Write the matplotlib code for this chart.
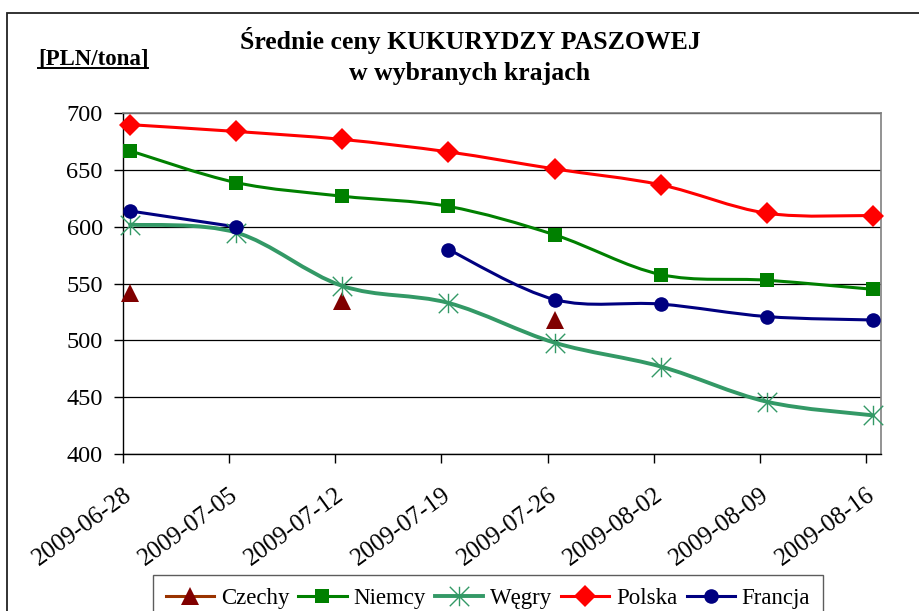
import numpy as np
import matplotlib
matplotlib.use('Agg')
import matplotlib.pyplot as plt
from matplotlib.path import Path
from matplotlib.patches import PathPatch, Rectangle
from matplotlib.lines import Line2D

# ---------------- data ----------------
dates = ['2009-06-28', '2009-07-05', '2009-07-12', '2009-07-19',
         '2009-07-26', '2009-08-02', '2009-08-09', '2009-08-16']
nan = np.nan
czechy = [542, nan, 535, nan, 518, nan, nan, nan]
niemcy = [667, 639, 627, 618, 593, 558, 553, 545]
wegry = [602, 595, 548, 533, 498, 477, 446, 434]
polska = [690, 684, 677, 666, 651, 637, 612, 610]
francja = [614, 600, nan, 580, 536, 532, 521, 518]
series_names = ['Czechy', 'Niemcy', 'Węgry', 'Polska', 'Francja']
title_text = 'Średnie ceny KUKURYDZY PASZOWEJ\nw wybranych krajach'
unit_text = '[PLN/tona]'

# ---------------- style ----------------
FONT = ['Liberation Serif', 'DejaVu Serif']
plt.rcParams['font.family'] = FONT

star = Path([(0, -1), (0, 1), (-1, -1), (1, 1), (-1, 1), (1, -1)],
            [Path.MOVETO, Path.LINETO, Path.MOVETO, Path.LINETO,
             Path.MOVETO, Path.LINETO])

styles = {
    'Czechy': dict(data=czechy, color='#800000', lcolor='#993300', marker='^', ms=13, lw=2.2, mew=0),
    'Niemcy': dict(data=niemcy, color='#008000', lcolor='#008000', marker='s', ms=10.5, lw=2.2, mew=0),
    'Węgry': dict(data=wegry, color='#339966', lcolor='#339966', marker=star, ms=14, lw=2.8, mew=1.0),
    'Polska': dict(data=polska, color='#FF0000', lcolor='#FF0000', marker='D', ms=11, lw=2.2, mew=0),
    'Francja': dict(data=francja, color='#000080', lcolor='#000080', marker='o', ms=10.5, lw=2.2, mew=0),
}

W, H = 919, 611
fig = plt.figure(figsize=(W / 100, H / 100), dpi=100)

# outer chart border (cut off at right/bottom like the reference)
fig.add_artist(Rectangle((7 / W, -0.05), 1.2, (H - 13) / H + 0.05,
                         transform=fig.transFigure, fill=False,
                         edgecolor='#222222', lw=1.3))

ax = fig.add_axes([123 / W, (H - 454) / H, (881 - 123) / W, (454 - 113.3) / H])

offset = 0.066
x = np.arange(len(dates)) + offset


def smooth_path(xs, ys):
    """Excel-like smoothed line (Catmull-Rom Bezier) per continuous run."""
    verts, codes = [], []
    ys = np.asarray(ys, dtype=float)
    good = ~np.isnan(ys)
    runs, cur = [], []
    for i in range(len(ys)):
        if good[i]:
            cur.append(i)
        else:
            if cur:
                runs.append(cur)
            cur = []
    if cur:
        runs.append(cur)
    for run in runs:
        if len(run) < 2:
            continue
        P = np.array([[xs[i], ys[i]] for i in run])
        n = len(P)
        verts.append(tuple(P[0]))
        codes.append(Path.MOVETO)
        for i in range(n - 1):
            p0 = P[i - 1] if i > 0 else P[i]
            p1 = P[i]
            p2 = P[i + 1]
            p3 = P[i + 2] if i + 2 < n else P[i + 1]
            c1 = p1 + (p2 - p0) / 6.0
            c2 = p2 - (p3 - p1) / 6.0
            verts += [tuple(c1), tuple(c2), tuple(p2)]
            codes += [Path.CURVE4] * 3
    if not verts:
        return None
    return Path(verts, codes)


handles = []
for name in series_names:
    s = styles[name]
    p = smooth_path(x, s['data'])
    if p is not None:
        ax.add_patch(PathPatch(p, facecolor='none', edgecolor=s['color'],
                               lw=s['lw'], capstyle='round', joinstyle='round',
                               zorder=3))
    ax.plot(x, s['data'], linestyle='none', marker=s['marker'],
            markersize=s['ms'], color=s['color'], markeredgecolor=s['color'],
            markeredgewidth=s['mew'], zorder=4, clip_on=False)
    handles.append(Line2D([0], [0], color=s['lcolor'], lw=s['lw'],
                          marker=s['marker'], markersize=s['ms'],
                          markerfacecolor=s['color'], markeredgecolor=s['color'],
                          markeredgewidth=s['mew'], label=name))

ax.set_xlim(0, 7.14)
ax.set_ylim(400, 700)
ax.set_yticks(np.arange(400, 701, 50))
ax.set_xticks(np.arange(len(dates)))
ax.set_xticklabels(dates, rotation=36, ha='right', va='top',
                   rotation_mode='anchor')
ax.tick_params(axis='both', length=6.5, width=1.0,
               direction='out', color='black')
ax.tick_params(axis='y', pad=8, labelsize=17.5)
ax.tick_params(axis='x', pad=15, labelsize=18)
ax.yaxis.grid(True, color='black', lw=0.9)
ax.set_axisbelow(True)
for side in ['top', 'right']:
    ax.spines[side].set_color('#808080')
    ax.spines[side].set_linewidth(1.2)
for side in ['left', 'bottom']:
    ax.spines[side].set_color('black')
    ax.spines[side].set_linewidth(1.0)

# title and unit
fig.text(470 / W, 1 - 56 / H, title_text, ha='center', va='center',
         fontsize=18.5, fontweight='bold', linespacing=1.45)
t = fig.text(38 / W, 1 - 64 / H, unit_text, ha='left', va='baseline',
             fontsize=16.5, fontweight='bold')
fig.add_artist(Line2D([38 / W, 148 / W], [1 - 68 / H, 1 - 68 / H],
                      transform=fig.transFigure, color='black', lw=1.4))

leg = fig.legend(handles=handles, loc='upper center', ncol=5,
                 bbox_to_anchor=(488 / W, 1 - 575 / H), fontsize=16.5,
                 frameon=True, fancybox=False, edgecolor='#333333',
                 handlelength=2.1, handletextpad=0.3, columnspacing=0.4,
                 borderpad=0.55, borderaxespad=0)
leg.get_frame().set_linewidth(1.0)

fig.savefig('out.png', dpi=100)
